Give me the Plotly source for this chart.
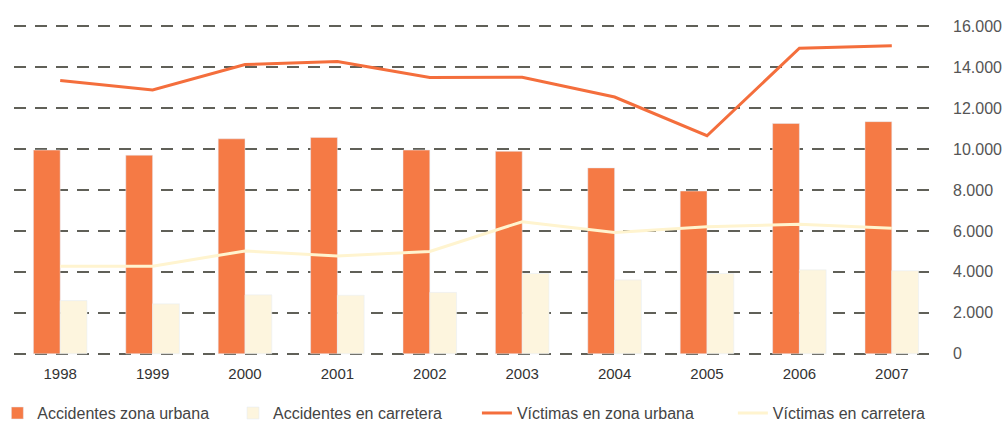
import plotly.graph_objects as go

# Datos
anios = ['1998', '1999', '2000', '2001', '2002', '2003', '2004', '2005', '2006', '2007']

accidentes_urbana    = [9950, 9700, 10500, 10570, 9950, 9890, 9080, 7950, 11250, 11340]
accidentes_carretera = [2600, 2440, 2880, 2860, 3000, 3920, 3610, 3920, 4100, 4060]
victimas_urbana      = [13350, 12890, 14130, 14280, 13500, 13510, 12540, 10650, 14930, 15050]
victimas_carretera   = [4280, 4280, 5020, 4780, 5000, 6450, 5920, 6210, 6330, 6130]

ticks_y      = [0, 2000, 4000, 6000, 8000, 10000, 12000, 14000, 16000]
ticks_y_text = ['0', '2.000', '4.000', '6.000', '8.000', '10.000', '12.000', '14.000', '16.000']

NARANJA       = '#F57A45'
NARANJA_LINEA = '#F46E3C'
CREMA         = '#FDF5DE'
CREMA_LINEA   = '#FFF4CF'

fig = go.Figure()

# cada serie con su propia leyenda para poder colocarlas a mano
fig.add_trace(go.Bar(x=anios, y=accidentes_urbana, name='Accidentes zona urbana',
                     marker_color=NARANJA, legend='legend'))
fig.add_trace(go.Bar(x=anios, y=accidentes_carretera, name='Accidentes en carretera',
                     marker_color=CREMA, legend='legend2'))

fig.add_trace(go.Scatter(
    x = anios,
    y = victimas_urbana,
    mode = 'lines',
    name = 'Víctimas en zona urbana',
    line = dict(color=NARANJA_LINEA, width=3),
    legend = 'legend3'
))
fig.add_trace(go.Scatter(
    x = anios,
    y = victimas_carretera,
    mode = 'lines',
    name = 'Víctimas en carretera',
    line = dict(color=CREMA_LINEA, width=3),
    legend = 'legend4'
))

def leyenda(x):
    return dict(
        x = x, y = -0.176,
        xanchor = 'left', yanchor = 'middle',
        orientation = 'h',
        bgcolor = 'rgba(0,0,0,0)',
        font = dict(size=16, color='#444'),
    )

fig.update_layout(
    width  = 1005,
    height = 421,
    margin = dict(l=14, r=67, t=25, b=66, autoexpand=False),
    paper_bgcolor = 'white',
    plot_bgcolor  = 'white',
    font = dict(family='Liberation Sans, Arial, sans-serif', size=14, color='#444'),
    barmode = 'group',
    bargap  = 0.42,
    bargroupgap = 0,
    showlegend = True,
    legend  = leyenda(-0.018),
    legend2 = leyenda(0.237),
    legend3 = leyenda(0.501),
    legend4 = leyenda(0.778),
    xaxis = dict(
        showgrid = False,
        showline = False,
        ticks = '',
        automargin = False,
        ticklabelstandoff = 8,
        tickfont = dict(size=15, color='#333'),
        range = [-0.5, 9.5],
    ),
    yaxis = dict(
        side = 'right',
        range = [-60, 16060],
        tickvals = ticks_y,
        ticktext = ticks_y_text,
        showgrid = True,
        gridcolor = '#606058',
        gridwidth = 2,
        griddash = '12px,9px',
        zeroline = False,
        showline = False,
        ticks = '',
        automargin = False,
        ticklabelstandoff = 14,
        tickfont = dict(size=16, color='#555'),
    ),
)

# quitar el margen por defecto del body
fig.write_html("out.html", config={'displayModeBar': False},
               post_script="document.body.style.margin='0';")
